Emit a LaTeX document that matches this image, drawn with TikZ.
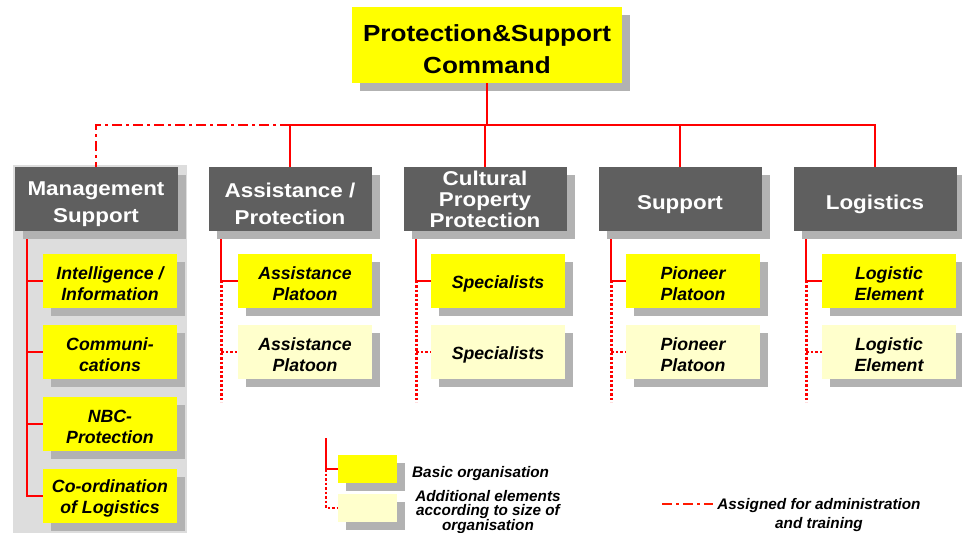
\documentclass[tikz,border=0pt]{standalone}
\usepackage{fontspec}
\setmainfont{Liberation Sans}
\newfontfamily\headfont{Liberation Sans}[FakeStretch=1.12]
\usetikzlibrary{shadows}

\definecolor{cmdyellow}{HTML}{FFFF00}
\definecolor{paleyellow}{HTML}{FFFFCC}
\definecolor{unitgray}{HTML}{5F5F5F}
\definecolor{shadowgray}{HTML}{B2B2B2}
\definecolor{panelgray}{HTML}{DDDDDD}
\colorlet{legendred}{red!80!orange}

% struts to push box texts down a little
\newcommand{\headstrut}{\rule{0pt}{25pt}}
\newcommand{\substrut}{\rule{0pt}{19pt}}

\tikzset{
    boxshadow/.style={general shadow={fill=shadowgray, shadow xshift=8pt, shadow yshift=-8pt}},
    cmdbox/.style={boxshadow, fill=cmdyellow, minimum width=270pt, minimum height=76pt, inner sep=0pt,
        align=center, font=\headfont\bfseries\fontsize{23.3}{32}\selectfont},
    unitbox/.style={boxshadow, fill=unitgray, text=white, minimum width=163pt, minimum height=64pt, inner sep=0pt,
        align=center, font=\headfont\bfseries\fontsize{20}{27}\selectfont},
    subbox/.style={boxshadow, fill=cmdyellow, minimum width=134pt, minimum height=54pt, inner sep=0pt,
        align=center, font=\bfseries\itshape\fontsize{17.7}{21}\selectfont},
    extrabox/.style={subbox, fill=paleyellow},
    legbox/.style={boxshadow, fill=cmdyellow, minimum width=59pt, minimum height=28pt, inner sep=0pt},
    legtext/.style={inner sep=0pt, align=center, font=\bfseries\itshape\fontsize{15.3}{14.5}\selectfont},
    redline/.style={red, line width=2pt},
    dotline/.style={red, line width=2.5pt, dash pattern=on 2.5pt off 2pt},
    dashdotline/.style={red, line width=2.5pt, dash pattern=on 10pt off 4pt on 3pt off 4pt}
}

\begin{document}
\begin{tikzpicture}[x=1pt, y=-1pt]
    \useasboundingbox (0,0) rectangle (962,533);

    % ==================== Background panel (management column) ====================
    \fill[panelgray] (13,165) rectangle (187,533);

    % ==================== Command ====================
    \node[cmdbox] (title) at (487,45) {\headstrut Protection\&Support\\Command};

    % ==================== Units ====================
    \node[unitbox] (mgmt)   at (96,199)  {\headstrut Management\\Support};
    \node[unitbox] (assist) at (290,199) {\headstrut Assistance /\\Protection};
    \node[unitbox, font=\headfont\bfseries\fontsize{20}{21}\selectfont] (cult) at (485,199) {Cultural\\Property\\Protection};
    \node[unitbox] (supp)   at (680,199) {\headstrut Support};
    \node[unitbox] (logi)   at (875,199) {\headstrut Logistics};

    % ==================== Elements ====================
    \node[subbox] (intel) at (110,280.5) {\substrut Intelligence /\\Information};
    \node[subbox] (comms) at (110,352)   {\substrut Communi-\\cations};
    \node[subbox] (nbc)   at (110,424)   {\substrut NBC-\\Protection};
    \node[subbox] (coord) at (110,495.5) {\substrut Co-ordination\\of Logistics};

    \node[subbox]   (assistA) at (305,280.5) {\substrut Assistance\\Platoon};
    \node[extrabox] (assistB) at (305,352)   {\substrut Assistance\\Platoon};
    \node[subbox]   (specA)   at (498,280.5) {\substrut Specialists};
    \node[extrabox] (specB)   at (498,352)   {\substrut Specialists};
    \node[subbox]   (pionA)   at (693,280.5) {\substrut Pioneer\\Platoon};
    \node[extrabox] (pionB)   at (693,352)   {\substrut Pioneer\\Platoon};
    \node[subbox]   (logA)    at (889,280.5) {\substrut Logistic\\Element};
    \node[extrabox] (logB)    at (889,352)   {\substrut Logistic\\Element};

    % ==================== Command lines ====================
    \coordinate (bus) at ([yshift=-42pt]title.south);
    \draw[redline] (title.south) -- (bus);
    \draw[redline] (bus) -| (assist.north);
    \draw[redline] (bus) -| (cult.north);
    \draw[redline] (bus) -| (supp.north);
    \draw[redline] (bus) -| (logi.north);
    \draw[dashdotline] (assist.north |- bus) -| (mgmt.north);

    % Management: all elements basic
    \coordinate (mgmt-top) at ([xshift=13pt, yshift=-8pt]mgmt.south west);
    \foreach \elem in {intel, comms, nbc, coord}
        \draw[redline] (mgmt-top) |- (\elem.west);

    % Other units: one basic, one additional element
    \coordinate (colend) at (0,402);
    \foreach \col/\first/\second in {assist/assistA/assistB, cult/specA/specB, supp/pionA/pionB, logi/logA/logB} {
        \coordinate (\col-top) at ([xshift=13pt, yshift=-8pt]\col.south west);
        \draw[redline] (\col-top) |- (\first.west);
        \draw[dotline] (\first.west -| \col-top) -- (\col-top |- colend);
        \draw[dotline] (\second.west -| \col-top) -- (\second.west);
    }

    % ==================== Legend ====================
    \coordinate (legtop) at (326,438);
    \node[legbox] (legbasic) at (367.5,469) {};
    \node[legbox, fill=paleyellow] (legextra) at (367.5,508) {};
    \draw[redline] (legtop) |- (legbasic.west);
    \draw[dotline] (legbasic.west -| legtop) |- (legextra.west);
    \node[legtext, anchor=west] (basictext) at (412,474) {Basic organisation};
    \node[legtext] (extratext) at (488,512) {Additional elements\\according to size of\\organisation};

    \coordinate (assignstart) at (662,504);
    \node[legtext, inner sep=4pt, font=\bfseries\itshape\fontsize{15.3}{19}\selectfont] (assigntext) at (819,515) {Assigned for administration\\and training};
    \draw[dashdotline, legendred] (assignstart) -- (assignstart -| assigntext.west);
\end{tikzpicture}
\end{document}
